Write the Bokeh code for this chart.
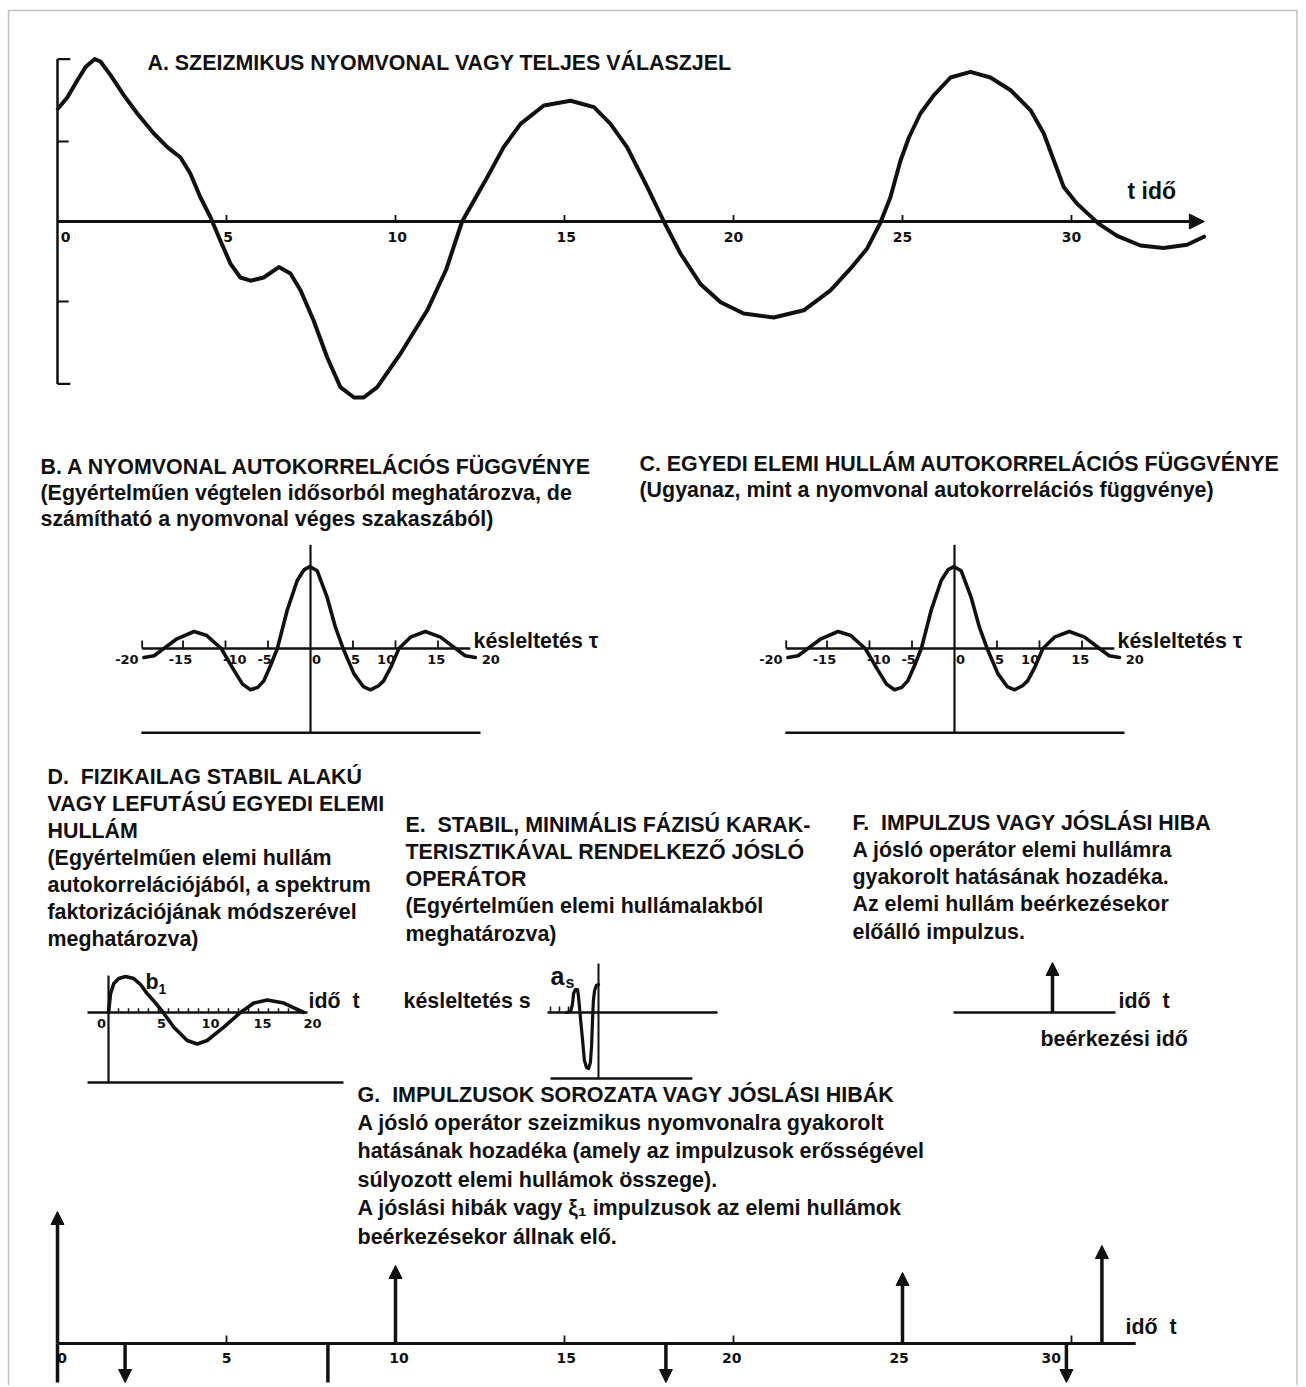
from bokeh.plotting import figure
from bokeh.models import Range1d, Arrow, NormalHead, ColumnDataSource, BoxAnnotation
from bokeh.embed import file_html
from bokeh.resources import INLINE
from bokeh.core.properties import value

# ---------------------------------------------------------------- data
# A. seismic trace (time t, amplitude in bracket units)
A_T = [0.01, 0.29, 0.58, 0.83, 1.1, 1.27, 1.57, 1.96, 2.36, 2.85, 3.25, 3.64, 3.93, 4.23, 4.53,
       4.82, 5.12, 5.41, 5.71, 6.1, 6.55, 6.89, 7.19, 7.58, 7.98, 8.37, 8.77, 9.06, 9.46, 10.15,
       10.94, 11.5, 11.97, 12.71, 13.2, 13.7, 14.39, 15.18, 15.87, 16.36, 16.85, 17.45, 17.94,
       18.43, 19.02, 19.62, 20.3, 21.19, 22.08, 22.87, 23.46, 23.95, 24.33, 24.64, 24.94, 25.19,
       25.53, 25.93, 26.42, 27.01, 27.6, 28.2, 28.79, 29.18, 29.48, 29.77, 30.17, 30.81, 31.35,
       32.04, 32.72, 33.42, 33.92]
A_V = [1.41, 1.55, 1.76, 1.93, 2.03, 2.0, 1.83, 1.58, 1.35, 1.10, 0.93, 0.80, 0.60, 0.30, 0.05,
       -0.24, -0.53, -0.70, -0.74, -0.70, -0.57, -0.65, -0.86, -1.24, -1.70, -2.07, -2.2, -2.2,
       -2.07, -1.65, -1.11, -0.6, 0.0, 0.55, 0.93, 1.22, 1.45, 1.51, 1.43, 1.22, 0.93, 0.43, 0.0,
       -0.4, -0.78, -1.01, -1.15, -1.2, -1.11, -0.86, -0.59, -0.34, -0.03, 0.30, 0.76, 1.05, 1.35,
       1.58, 1.8, 1.87, 1.8, 1.64, 1.39, 1.1, 0.76, 0.43, 0.22, -0.03, -0.18, -0.3, -0.33, -0.29,
       -0.19]
A_TICKS = [5, 10, 15, 20, 25, 30]
A_TICK_LABELS = ["0", "5", "10", "15", "20", "25", "30"]
A_TICK_LABEL_T = [0.24, 5.05, 10.05, 15.05, 20.0, 25.0, 30.0]
A_BRACKET = [-2.03, -1.0, 1.0, 2.03]
A_END = 33.93

# B / C. autocorrelation (lag tau, normalised value)
ACF_TAU = [-19.6, -18.4, -17.25, -15.7, -13.7, -12.2, -10.5, -9.0, -8.0, -7.06, -6.2, -5.5, -4.7,
           -3.9, -2.75, -1.56, -0.78, -0.08, 0.78, 1.96, 2.94, 3.84, 5.1, 6.2, 7.06, 8.0, 8.6, 9.5,
           10.4, 11.76, 13.5, 15.3, 17.06, 18.2, 19.4]
ACF_V = [-0.11, -0.09, 0.0, 0.12, 0.21, 0.16, 0.0, -0.27, -0.44, -0.51, -0.48, -0.40, -0.21, 0.0,
         0.47, 0.84, 0.97, 1.01, 0.96, 0.63, 0.26, 0.0, -0.31, -0.47, -0.51, -0.46, -0.40, -0.22,
         0.0, 0.14, 0.21, 0.14, 0.0, -0.09, -0.11]
ACF_TICKS = [-19.8, -15, -10, -5, 5, 10, 15]
ACF_TICK_LABELS = ["-20", "-15", "-10", "-5", "0", "5", "10", "15", "20"]
ACF_TICK_LABEL_TAU = [-21.6, -15.3, -8.9, -5.4, 0.7, 5.3, 8.9, 14.8, 21.2]
ACF_AXIS = [-19.8, 18.8]
ACF_BASE = [-19.9, 20.0, -1.04]
ACF_VAXIS = [-1.04, 1.28]

# D. minimum-phase wavelet
D_T = [0, 0.2, 0.53, 1.03, 1.7, 2.53, 3.2, 3.87, 4.53, 5.47, 6.53, 7.87, 8.87, 9.87, 11.53, 13.2,
       14.53, 15.87, 17.53, 19.53]
D_V = [0, 0.54, 0.83, 0.97, 1.03, 0.97, 0.8, 0.54, 0.33, 0, -0.42, -0.8, -0.9, -0.8, -0.42, 0,
       0.27, 0.36, 0.27, 0]
D_MINOR = list(range(1, 20))
D_TICK_LABELS = ["0", "5", "10", "15", "20"]
D_TICK_LABEL_T = [-0.7, 5.3, 10.2, 15.4, 20.4]

# E. prediction operator a_s (lag s)
E_S = [10.7, 9.3, 8.7, 8.3, 7.7, 7.0, 6.7, 6.3, 6.0, 5.3, 4.7, 4.0, 3.3, 2.7, 2.3, 2.0, 1.7, 1.3,
       0.7, 0.0]
E_A = [0, 0.1, 0.8, 1.9, 2.3, 2.3, 1.7, 0.4, -0.6, -2.8, -4.8, -5.5, -5.6, -5.0, -3.3, -0.8, 1.2,
       2.2, 2.7, 2.8]
E_TICKS = [16, 13, 10]

# F. single impulse
F_ARRIVAL = 9.9
F_AMP = 5.0
F_AXIS = [0, 16.2]

# G. impulse series (time, strength, has head)
G_T = [0, 2, 8, 10, 18, 25, 29.85, 30.9]
G_AMP = [13.2, -3.9, -3.9, 7.8, -3.9, 7.1, -3.9, 9.8]
G_HEAD = [True, True, False, True, True, True, True, True]
G_TICKS = [5, 15, 20, 30]
G_TICK_LABELS = ["0", "5", "10", "15", "20", "25", "30"]
G_TICK_LABEL_T = [0.14, 5, 10.1, 15.05, 19.95, 24.9, 29.4]
G_AXIS = [0, 31.9]

# ---------------------------------------------------------------- layout
W, H = 1304, 1385
X_LO, X_HI, Y_TOP, Y_BOT = 0, W, 0, H
PANELS = {
    "A": (57, 33.8, 221, 80),
    "B": (310, 8.5, 648, 81),
    "C": (954, 8.5, 648, 81),
    "D": (108, 10.0, 1012, 35),
    "E": (598, -3.0, 1012, 10),
    "F": (953, 10.0, 1012, 10),
    "G": (57, 33.8, 1343, 10),
}
FONT = value("Liberation Sans")
NUMFONT = value("DejaVu Sans")
BLACK = "#111111"
NB = "\u00a0"

p = figure(width=W, height=H, output_backend="svg", toolbar_location=None,
           x_range=Range1d(X_LO, X_HI), y_range=Range1d(Y_BOT, Y_TOP),
           x_axis_type=None, y_axis_type=None, min_border=0)
p.grid.visible = False
p.outline_line_color = None
p.background_fill_color = "white"
p.border_fill_color = "white"

for name, (x0, sx, y0, sy) in PANELS.items():
    p.extra_x_ranges[name] = Range1d((X_LO - x0) / sx, (X_HI - x0) / sx)
    p.extra_y_ranges[name] = Range1d((y0 - Y_BOT) / sy, (y0 - Y_TOP) / sy)

p.add_layout(BoxAnnotation(left=8, right=1296.5, top=10, bottom=1500, fill_alpha=0,
                           line_color="#333333", line_width=1.5))


def seg(name, xs0, ys0, xs1, ys1, w=2.5):
    p.segment(x0=xs0, y0=ys0, x1=xs1, y1=ys1, x_range_name=name, y_range_name=name,
              line_color=BLACK, line_width=w)


def curve(name, xs, ys, w=3.5):
    p.line(xs, ys, x_range_name=name, y_range_name=name, line_color=BLACK, line_width=w,
           line_join="round", line_cap="round")


def ticklabels(name, xs, labels, dy, size="14px"):
    p.text(x=xs, y=[0] * len(xs), text=labels, x_range_name=name, y_range_name=name,
           text_font=NUMFONT, text_font_style="bold", text_font_size=size,
           text_align="center", text_baseline="middle", y_offset=dy, text_color=BLACK)


def arrows(name, xs, y0s, y1s, size=13, w=3.5):
    src = ColumnDataSource(dict(x0=xs, y0=y0s, x1=xs, y1=y1s))
    p.add_layout(Arrow(end=NormalHead(size=size, fill_color=BLACK, line_color=BLACK, line_width=1),
                       source=src, x_start="x0", y_start="y0", x_end="x1", y_end="y1",
                       line_color=BLACK, line_width=w, x_range_name=name, y_range_name=name))


# ---- A
p.add_layout(Arrow(end=NormalHead(size=15, fill_color=BLACK, line_color=BLACK, line_width=1),
                   x_start=0, y_start=0, x_end=A_END, y_end=0, line_color=BLACK, line_width=3,
                   x_range_name="A", y_range_name="A"))
seg("A", A_TICKS, [0] * len(A_TICKS), A_TICKS, [0.08] * len(A_TICKS), 1.8)
seg("A", [0], [A_BRACKET[0]], [0], [A_BRACKET[-1]], 2.5)
seg("A", [0] * 4, A_BRACKET, [0.38, 0.33, 0.33, 0.38], A_BRACKET, 2.2)
curve("A", A_T, A_V, 4.0)
ticklabels("A", A_TICK_LABEL_T, A_TICK_LABELS, 15)

# ---- B and C
for nm in ("B", "C"):
    seg(nm, [ACF_AXIS[0]], [0], [ACF_AXIS[1]], [0], 2.5)
    seg(nm, [ACF_BASE[0]], [ACF_BASE[2]], [ACF_BASE[1]], [ACF_BASE[2]], 2.5)
    seg(nm, [0], [ACF_VAXIS[0]], [0], [ACF_VAXIS[1]], 2.2)
    seg(nm, ACF_TICKS, [0] * len(ACF_TICKS), ACF_TICKS, [0.1] * len(ACF_TICKS), 1.8)
    curve(nm, ACF_TAU, ACF_V, 3.6)
    ticklabels(nm, ACF_TICK_LABEL_TAU, ACF_TICK_LABELS, 11, "13px")

# ---- D
seg("D", [-2.1], [0], [19.9], [0], 2.5)
seg("D", [-2.1], [-2.0], [23.5], [-2.0], 2.5)
seg("D", [0], [-2.0], [0], [1.06], 2.2)
seg("D", D_MINOR, [0] * len(D_MINOR), D_MINOR, [0.12] * len(D_MINOR), 1.5)
curve("D", D_T, D_V, 3.6)
ticklabels("D", D_TICK_LABEL_T, D_TICK_LABELS, 11, "13px")

# ---- E
seg("E", [17], [0], [-39.7], [0], 2.5)
seg("E", [16], [-6.6], [-31.3], [-6.6], 2.5)
seg("E", [0], [-6.6], [0], [4.9], 2.0)
seg("E", E_TICKS, [0] * 3, E_TICKS, [0.6] * 3, 1.5)
curve("E", E_S, E_A, 3.2)

# ---- F
seg("F", [F_AXIS[0]], [0], [F_AXIS[1]], [0], 2.5)
arrows("F", [F_ARRIVAL], [0], [F_AMP], 13, 3.5)

# ---- G
seg("G", [G_AXIS[0]], [0], [G_AXIS[1]], [0], 2.8)
seg("G", G_TICKS, [0] * len(G_TICKS), G_TICKS, [0.8] * len(G_TICKS), 1.8)
head_t = [t for t, h in zip(G_T, G_HEAD) if h]
head_a = [a for a, h in zip(G_AMP, G_HEAD) if h]
arrows("G", head_t, [0] * len(head_t), head_a, 13, 3.5)
plain_t = [t for t, h in zip(G_T, G_HEAD) if not h] + [0]
plain_a = [a for a, h in zip(G_AMP, G_HEAD) if not h] + [-3.9]
seg("G", plain_t, [0] * len(plain_t), plain_t, plain_a, 3.5)
ticklabels("G", G_TICK_LABEL_T, G_TICK_LABELS, 14)

# ---------------------------------------------------------------- texts
def texts(items, size="21.4px", style="bold", font=FONT):
    xs = [i[0] for i in items]
    ys = [i[1] for i in items]
    tx = [i[2] for i in items]
    p.text(x=xs, y=ys, text=tx, text_font=font, text_font_style=style, text_font_size=size,
           text_align="left", text_baseline="middle", text_color=BLACK)


def block(x, y, dy, lines):
    return [(x, y + i * dy, s) for i, s in enumerate(lines)]


TEXT = []
TEXT += [(147, 62, "A. SZEIZMIKUS NYOMVONAL VAGY TELJES VÁLASZJEL")]
TEXT += block(40, 466, 26, ["B. A NYOMVONAL AUTOKORRELÁCIÓS FÜGGVÉNYE",
                            "(Egyértelműen végtelen idősorból meghatározva, de",
                            "számítható a nyomvonal véges szakaszából)"])
TEXT += block(639, 463, 26, ["C. EGYEDI ELEMI HULLÁM AUTOKORRELÁCIÓS FÜGGVÉNYE",
                             "(Ugyanaz, mint a nyomvonal autokorrelációs függvénye)"])
TEXT += block(47, 776, 27, ["D." + NB + NB + "FIZIKAILAG STABIL ALAKÚ",
                            "VAGY LEFUTÁSÚ EGYEDI ELEMI",
                            "HULLÁM",
                            "(Egyértelműen elemi hullám",
                            "autokorrelációjából, a spektrum",
                            "faktorizációjának módszerével",
                            "meghatározva)"])
TEXT += block(405, 824, 27.3, ["E." + NB + NB + "STABIL, MINIMÁLIS FÁZISÚ KARAK-",
                               "TERISZTIKÁVAL RENDELKEZŐ JÓSLÓ",
                               "OPERÁTOR",
                               "(Egyértelműen elemi hullámalakból",
                               "meghatározva)"])
TEXT += block(852, 822, 27.3, ["F." + NB + NB + "IMPULZUS VAGY JÓSLÁSI HIBA",
                               "A jósló operátor elemi hullámra",
                               "gyakorolt hatásának hozadéka.",
                               "Az elemi hullám beérkezésekor",
                               "előálló impulzus."])
TEXT += [(473, 640, "késleltetés τ"), (1117, 640, "késleltetés τ"),
         (308, 1000, "idő" + NB + NB + "t"), (403, 1000, "késleltetés s"),
         (1118, 1000, "idő" + NB + NB + "t"), (1040, 1038, "beérkezési idő"),
         (1125, 1326, "idő" + NB + NB + "t"), (145, 981, "b")]
texts(TEXT)
texts(block(357, 1094, 28.4, ["G." + NB + NB + "IMPULZUSOK SOROZATA VAGY JÓSLÁSI HIBÁK",
                              "A jósló operátor szeizmikus nyomvonalra gyakorolt",
                              "hatásának hozadéka (amely az impulzusok erősségével",
                              "súlyozott elemi hullámok összege).",
                              "A jóslási hibák vagy ξ₁ impulzusok az elemi hullámok",
                              "beérkezésekor állnak elő."]), size="21.5px")
texts([(1127, 190, "t idő")], size="23px")
texts([(550, 975, "a")], size="25px")
texts([(158, 988, "1")], size="14px")
texts([(565, 982, "s")], size="16px")

open("out.html", "w").write(file_html(p, INLINE))
